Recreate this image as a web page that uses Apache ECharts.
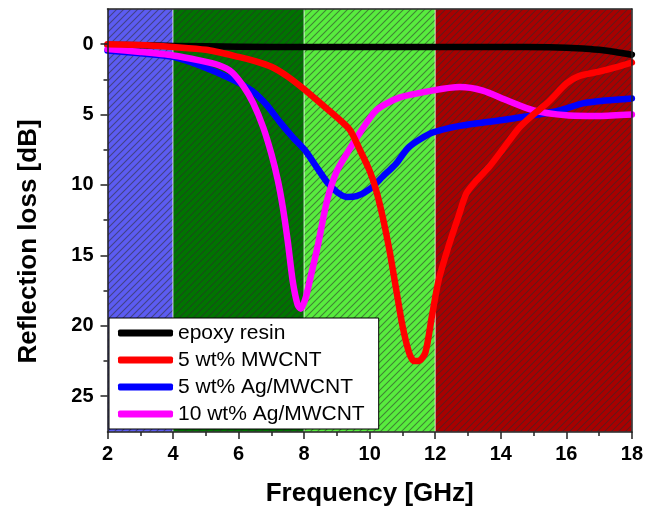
<!DOCTYPE html>
<html>
<head>
<meta charset="utf-8">
<script src="https://cdn.jsdelivr.net/npm/echarts@6/dist/echarts.min.js"></script>
<style>
  html, body { margin: 0; padding: 0; background: #fff; }
  #chart { width: 646px; height: 514px; }
</style>
</head>
<body>
<div id="chart"></div>
<script>
// legend names
var names = ['epoxy resin', '5 wt% MWCNT', '5 wt% Ag/MWCNT', '10 wt% Ag/MWCNT']

// epoxy resin
var freqEpoxy = [2, 3, 4, 6, 8, 10, 12, 14, 15.5, 16.5, 17, 17.5, 18]
var rlEpoxy = [0.05, 0.08, 0.12, 0.18, 0.2, 0.2, 0.2, 0.2, 0.22, 0.3, 0.4, 0.55, 0.75]

// 5 wt% MWCNT
var freqMw = [2, 3, 4, 5, 6, 6.5, 7, 7.5, 8, 8.5, 9, 9.4, 9.7, 10, 10.2, 10.4, 10.6, 10.8, 11, 11.2, 11.35, 11.5, 11.7, 11.9, 12.1, 12.4, 12.7, 12.95, 13.25, 13.65, 14.05, 14.5, 14.8, 15.2, 15.5, 16, 16.4, 17, 17.5, 18]
var rlMw = [0, 0.05, 0.2, 0.4, 0.9, 1.2, 1.6, 2.3, 3.2, 4.2, 5.2, 6.1, 7.5, 9.0, 10.4, 12.3, 14.6, 17.3, 20.0, 21.9, 22.5, 22.5, 21.9, 19.3, 16.8, 14.4, 12.3, 10.6, 9.7, 8.7, 7.5, 6.1, 5.4, 4.6, 4.0, 2.8, 2.25, 1.95, 1.65, 1.3]

// 5 wt% Ag/MWCNT
var freqAg5 = [2, 3, 4, 4.8, 5.8, 6.4, 6.85, 7.25, 7.65, 8.05, 8.4, 8.7, 9.0, 9.3, 9.6, 10.0, 10.4, 10.8, 11.2, 11.9, 12.75, 14, 15, 15.8, 16.5, 17.2, 18]
var rlAg5 = [0.45, 0.65, 0.9, 1.5, 2.5, 3.3, 4.3, 5.5, 6.6, 7.6, 8.8, 9.8, 10.5, 10.85, 10.8, 10.3, 9.4, 8.5, 7.3, 6.3, 5.8, 5.4, 5.05, 4.7, 4.2, 4.0, 3.85]

// 10 wt% Ag/MWCNT
var freqAg10 = [2, 3, 4, 4.8, 5.4, 5.8, 6.15, 6.45, 6.75, 7.0, 7.2, 7.35, 7.5, 7.65, 7.8, 7.9, 8.05, 8.2, 8.4, 8.7, 9.0, 9.35, 9.7, 10.2, 10.9, 11.9, 12.75, 13.45, 14.2, 15, 16, 17, 18]
var rlAg10 = [0.35, 0.55, 0.8, 1.15, 1.5, 2.0, 3.0, 4.2, 5.9, 7.8, 9.7, 11.6, 14.0, 16.8, 18.5, 18.8, 18.0, 16.5, 14.5, 11.1, 9.0, 7.6, 6.3, 4.7, 3.8, 3.3, 3.05, 3.3, 4.0, 4.7, 5.05, 5.1, 5.0]

// frequency bands (GHz)
var bandEdges = [[2, 4], [4, 8], [8, 12], [12, 18]]
var bandColors = ['#5c5cf2', '#007400', '#58ec3e', '#a80000']

var yLabels = [0, 5, 10, 15, 20, 25]
var yMinor = [2.5, 7.5, 12.5, 17.5, 22.5]

function zip (xs, ys) {
  return xs.map(function (x, i) { return [x, ys[i]] })
}

// diagonal hatch pattern
function hatch (base) {
  var s = 7
  var c = document.createElement('canvas')
  c.width = s
  c.height = s
  var g = c.getContext('2d')
  g.fillStyle = base
  g.fillRect(0, 0, s, s)
  g.strokeStyle = 'rgba(45,45,45,0.55)'
  g.lineWidth = 1.1
  g.beginPath()
  g.moveTo(0, s); g.lineTo(s, 0)
  g.moveTo(-1, 1); g.lineTo(1, -1)
  g.moveTo(s - 1, s + 1); g.lineTo(s + 1, s - 1)
  g.stroke()
  return { image: c, repeat: 'repeat' }
}

var font = 'Liberation Sans, Arial, sans-serif'
var axisColor = '#222'

var bands = bandEdges.map(function (b, i) {
  return [{ xAxis: b[0], itemStyle: { color: hatch(bandColors[i]) } }, { xAxis: b[1] }]
})

function lineSeries (name, data, color, z, extra) {
  var s = {
    name: name,
    type: 'line',
    data: data,
    smooth: 0.25,
    showSymbol: false,
    z: z,
    lineStyle: { color: color, width: 6.5, cap: 'round', join: 'round' },
    itemStyle: { color: color }
  }
  return Object.assign(s, extra || {})
}

var chart = echarts.init(document.getElementById('chart'))
chart.setOption({
  animation: false,
  backgroundColor: '#fff',
  grid: { left: 107.5, right: 14, top: 9, bottom: 82 },
  legend: {
    data: names,
    orient: 'vertical',
    left: 109,
    top: 318,
    padding: [4, 14, 4, 9],
    backgroundColor: '#fff',
    borderColor: '#000',
    borderWidth: 1,
    borderRadius: 0,
    icon: 'roundRect',
    itemWidth: 55,
    itemHeight: 7,
    itemGap: 5,
    textStyle: { fontFamily: font, fontSize: 21, lineHeight: 22, color: '#000' }
  },
  xAxis: [{
    type: 'value',
    min: 2,
    max: 18,
    interval: 2,
    z: 10,
    name: 'Frequency [GHz]',
    nameLocation: 'middle',
    nameGap: 49,
    nameTextStyle: { fontFamily: font, fontSize: 26, fontWeight: 'bold', color: '#000' },
    axisLine: { onZero: false, lineStyle: { color: axisColor, width: 1.5 } },
    axisTick: { length: 7, lineStyle: { color: axisColor, width: 1.5 } },
    minorTick: { show: true, splitNumber: 2, length: 4, lineStyle: { color: axisColor, width: 1.5 } },
    axisLabel: { fontFamily: font, fontSize: 20, fontWeight: 'bold', color: '#000', margin: 12 },
    splitLine: { show: false }
  }, {
    type: 'value',
    position: 'top',
    min: 2,
    max: 18,
    z: 10,
    axisLine: { onZero: false, lineStyle: { color: axisColor, width: 1.5 } },
    axisTick: { show: false },
    axisLabel: { show: false },
    splitLine: { show: false }
  }],
  yAxis: [{
    type: 'value',
    inverse: true,
    min: -2.5,
    max: 27.55,
    z: 10,
    name: 'Reflection loss [dB]',
    nameLocation: 'middle',
    nameGap: 66,
    nameTextStyle: { fontFamily: font, fontSize: 26, fontWeight: 'bold', color: '#000', padding: [0, 42, 0, 0] },
    axisLine: { onZero: false, lineStyle: { color: axisColor, width: 1.5 } },
    axisTick: { customValues: yLabels, length: 7, lineStyle: { color: axisColor, width: 1.5 } },
    axisLabel: { customValues: yLabels, fontFamily: font, fontSize: 20, fontWeight: 'bold', color: '#000', margin: 14 },
    splitLine: { show: false }
  }, {
    type: 'value',
    position: 'left',
    inverse: true,
    min: -2.5,
    max: 27.55,
    z: 10,
    axisLine: { show: false },
    axisTick: { customValues: yMinor, length: 4, lineStyle: { color: axisColor, width: 1.5 } },
    axisLabel: { show: false },
    splitLine: { show: false }
  }, {
    type: 'value',
    position: 'right',
    inverse: true,
    min: -2.5,
    max: 27.55,
    z: 10,
    axisLine: { onZero: false, lineStyle: { color: axisColor, width: 1.5 } },
    axisTick: { show: false },
    axisLabel: { show: false },
    splitLine: { show: false }
  }],
  series: [
    lineSeries(names[0], zip(freqEpoxy, rlEpoxy), '#000000', 2, {
      markArea: {
        silent: true,
        itemStyle: { borderColor: 'rgba(255,255,255,0.55)', borderWidth: 1 },
        data: bands
      }
    }),
    lineSeries(names[2], zip(freqAg5, rlAg5), '#0000ff', 3),
    lineSeries(names[3], zip(freqAg10, rlAg10), '#ff00ff', 4),
    lineSeries(names[1], zip(freqMw, rlMw), '#ff0000', 5)
  ]
})
</script>
</body>
</html>
